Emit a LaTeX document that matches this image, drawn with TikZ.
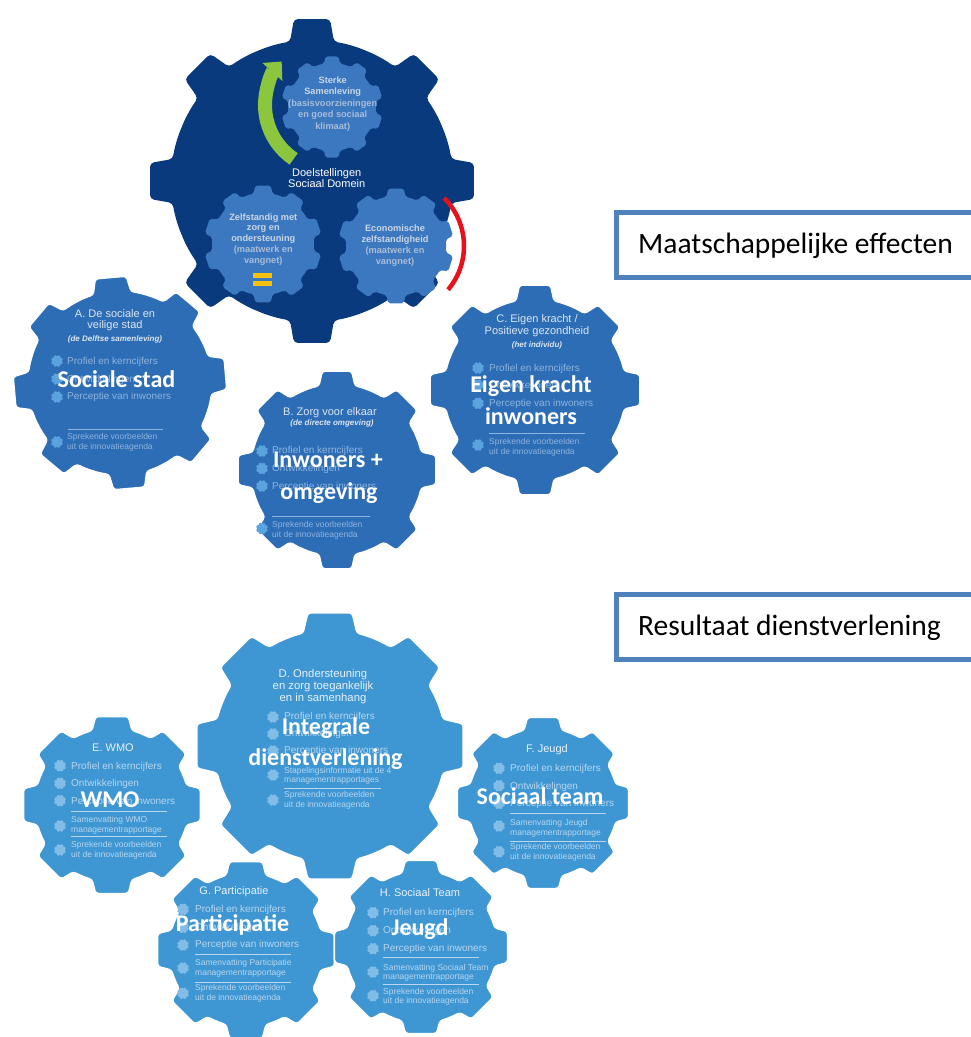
\documentclass[tikz,border=0pt]{standalone}
\usepackage{fontspec}
\setmainfont{Liberation Sans}
\newfontfamily\calfont{Carlito}
\usetikzlibrary{arrows.meta}

\definecolor{navy}{HTML}{0A3A7E}
\definecolor{innerblue}{HTML}{3B78BF}
\definecolor{upblue}{HTML}{2D6DB5}
\definecolor{loblue}{HTML}{3E96D3}
\definecolor{uptxt}{HTML}{8EB4DF}
\definecolor{uptitle}{HTML}{DCE6F2}
\definecolor{upbul}{HTML}{5AA3DE}
\definecolor{lotxt}{HTML}{B8D6EE}
\definecolor{lotitle}{HTML}{EAF2FA}
\definecolor{lobul}{HTML}{82BDE8}
\definecolor{intxt}{HTML}{CBD6E7}
\definecolor{inpar}{HTML}{A9BCD8}
\definecolor{boxblue}{HTML}{4F81BD}
\definecolor{arrowgreen}{HTML}{8CC63F}
\definecolor{arcred}{HTML}{E8101A}
\definecolor{eqyellow}{HTML}{F4C20D}

% #1 style, #2 cx, #3 cy, #4 body radius, #5 tip radius, #6 teeth, #7 offset angle, #8 tooth half width
\newcommand\mygear[8]{%
 \pgfmathsetmacro\gab{asin(#8/#4)}%
 \pgfmathsetmacro\gat{asin(0.82*#8/#5)}%
 \pgfmathsetmacro\gstep{360/#6}%
 \pgfmathsetmacro\gmid{#7+\gstep/2}%
 \path[#1] ([shift={(#2,#3)}]\gmid:#4)
  \foreach \k [evaluate=\k as \sa using #7+(\k-1)*\gstep+\gstep/2,
               evaluate=\k as \ea using #7+\k*\gstep-\gab,
               evaluate=\k as \ta using #7+\k*\gstep-\gat,
               evaluate=\k as \tb using #7+\k*\gstep+\gat,
               evaluate=\k as \tc using #7+\k*\gstep+\gab,
               evaluate=\k as \ma using #7+\k*\gstep+\gstep/2] in {1,...,#6}
  { arc[start angle=\sa, end angle=\ea, radius=#4]
    -- ([shift={(#2,#3)}]\ta:#5) -- ([shift={(#2,#3)}]\tb:#5) -- ([shift={(#2,#3)}]\tc:#4)
    arc[start angle=\tc, end angle=\ma, radius=#4] };%
}
\newcommand\mybul[3]{\mygear{fill=#1,rounded corners=0.6pt}{#2}{#3}{4.5}{6}{8}{22.5}{1.6}}

\tikzset{
 gup/.style={fill=upblue, draw=white, line width=1.5pt, rounded corners=3pt},
 glo/.style={fill=loblue, draw=white, line width=1.5pt, rounded corners=3pt},
 gin/.style={fill=innerblue, rounded corners=2pt},
 gnavy/.style={fill=navy, rounded corners=4pt},
 lbl/.style={inner sep=0pt, anchor=base, text=white, font=\calfont\bfseries\fontsize{24}{28}\selectfont},
 boxtxt/.style={inner sep=0pt, anchor=base west, text=black, font=\calfont\fontsize{29.5}{34}\selectfont},
 boxline/.style={draw=boxblue, line width=5pt, fill=white},
 ttl/.style={inner sep=0pt, anchor=base, text=#1, font=\fontsize{11}{13}\selectfont},
 ttlD/.style={inner sep=0pt, anchor=base, text=#1, font=\fontsize{11.3}{13}\selectfont},
 sub/.style={inner sep=0pt, anchor=base, text=#1, font=\bfseries\itshape\fontsize{8}{10}\selectfont},
 itm/.style={inner sep=0pt, anchor=base west, text=#1, font=\fontsize{10}{12}\selectfont},
 itms/.style={inner sep=0pt, anchor=base west, text=#1, font=\fontsize{8.5}{10}\selectfont},
 intitle/.style={inner sep=0pt, anchor=base, text=intxt, font=\bfseries\fontsize{9.2}{11}\selectfont},
 inparen/.style={inner sep=0pt, anchor=base, text=inpar, font=\bfseries\fontsize{9.2}{11}\selectfont},
 goal/.style={inner sep=0pt, anchor=base, text=white, font=\fontsize{11}{13}\selectfont},
 sepup/.style={draw=uptxt, line width=0.7pt},
 seplo/.style={draw=lotxt, line width=0.7pt},
}

\begin{document}
\begin{tikzpicture}[x=1pt,y=-1pt]
\useasboundingbox (0,0) rectangle (971,1037);
\clip (0,0) rectangle (971,1037);
\fill[white] (0,0) rectangle (971,1037);

% ---------- top navy gear ----------
\mygear{gnavy}{312}{181}{141}{163}{8}{0}{22}
\mygear{gin}{332}{107}{44}{51}{10}{-90}{8}
\mygear{gin}{263}{244}{51}{59}{10}{-90}{9.5}
\mygear{gin}{396}{246}{50}{58}{10}{-90}{9.5}

\coordinate (garc) at (330,105);
\draw[arrowgreen, line width=14pt, -{Triangle[width=26pt,length=14pt]}]
  ([shift={(garc)}]124:65) arc[start angle=124, end angle=222, radius=65];
\coordinate (rarc) at (396,246);
\draw[arcred, line width=4.5pt] ([shift={(rarc)}]-45:68) arc[start angle=-45, end angle=40, radius=68];
\fill[eqyellow] (253,273) rectangle (272,278);
\fill[eqyellow] (253,281) rectangle (272,286);

\node[intitle] (s1) at (332.7,83.3) {Sterke};
\node[intitle] (s2) at (332.7,94.3) {Samenleving};
\node[inparen] (s3) at (332.7,106) {(basisvoorzieningen};
\node[inparen] (s4) at (332.7,117.3) {en goed sociaal};
\node[inparen] (s5) at (332.7,129.3) {klimaat)};

\node[goal] (g1) at (326.7,176) {Doelstellingen};
\node[goal] (g2) at (326.7,187.3) {Sociaal Domein};

\node[intitle] (z1) at (263.3,220) {Zelfstandig met};
\node[intitle] (z2) at (263.3,230.7) {zorg en};
\node[intitle] (z3) at (263.3,241.7) {ondersteuning};
\node[inparen] (z4) at (263.3,252.7) {(maatwerk en};
\node[inparen] (z5) at (263.3,263.3) {vangnet)};

\node[intitle] (e1) at (395,231.7) {Economische};
\node[intitle] (e2) at (395,242.7) {zelfstandigheid};
\node[inparen] (e3) at (395,253.3) {(maatwerk en};
\node[inparen] (e4) at (395,264.3) {vangnet)};

% ---------- gear A ----------
\mygear{gup}{120}{383}{92}{107}{8}{-95}{19}
\node[ttl=uptitle] (aT1) at (115,317) {A. De sociale en};
\node[ttl=uptitle] (aT2) at (115,328) {veilige stad};
\node[sub=uptitle] (aS) at (115,341) {(de Delftse samenleving)};
\mybul{upbul}{57}{361}\mybul{upbul}{57}{379}\mybul{upbul}{57}{397}\mybul{upbul}{57}{442}
\node[itm=uptxt] (aI1) at (67,364) {Profiel en kerncijfers};
\node[itm=uptxt] (aI2) at (67,382) {Ontwikkelingen};
\node[itm=uptxt] (aI3) at (67,399.5) {Perceptie van inwoners};
\draw[sepup] (68,429.3) -- (163,429.3);
\node[itms=uptxt] (aI4) at (67,439.5) {Sprekende voorbeelden};
\node[itms=uptxt] (aI5) at (67,449) {uit de innovatieagenda};

% ---------- gear C ----------
\mygear{gup}{535}{390}{91}{106}{8}{-90}{19}
\node[ttl=uptitle] (cT1) at (537,322.3) {C. Eigen kracht /};
\node[ttl=uptitle] (cT2) at (537,334.3) {Positieve gezondheid};
\node[sub=uptitle] (cS) at (537,347.3) {(het individu)};
\mybul{upbul}{478}{368}\mybul{upbul}{478}{385}\mybul{upbul}{478}{403.3}\mybul{upbul}{478}{445}
\node[itm=uptxt] (cI1) at (489,371) {Profiel en kerncijfers};
\node[itm=uptxt] (cI2) at (489,388.3) {Ontwikkelingen};
\node[itm=uptxt] (cI3) at (489,406) {Perceptie van inwoners};
\draw[sepup] (489,433.3) -- (585,433.3);
\node[itms=uptxt] (cI4) at (489,444) {Sprekende voorbeelden};
\node[itms=uptxt] (cI5) at (489,454) {uit de innovatieagenda};

% ---------- gear B ----------
\mygear{gup}{337}{470}{86}{100}{8}{-90}{18}
\node[ttl=uptitle] (bT1) at (330,415) {B. Zorg voor elkaar};
\node[sub=uptitle] (bS) at (332,425.5) {(de directe omgeving)};
\mybul{upbul}{262}{451}\mybul{upbul}{262}{468.5}\mybul{upbul}{262}{486}\mybul{upbul}{262}{528.5}
\node[itm=uptxt] (bI1) at (272,453.5) {Profiel en kerncijfers};
\node[itm=uptxt] (bI2) at (272,471) {Ontwikkelingen};
\node[itm=uptxt] (bI3) at (272,489) {Perceptie van inwoners};
\draw[sepup] (272,516.7) -- (370,516.7);
\node[itms=uptxt] (bI4) at (272,527.5) {Sprekende voorbeelden};
\node[itms=uptxt] (bI5) at (272,537) {uit de innovatieagenda};

% ---------- gear D ----------
\mygear{glo}{330}{746}{116}{135}{8}{-90}{27}
\node[ttlD=lotitle] (dT1) at (323,677.3) {D. Ondersteuning};
\node[ttlD=lotitle] (dT2) at (323,689.5) {en zorg toegankelijk};
\node[ttlD=lotitle] (dT3) at (323,701.7) {en in samenhang};
\mybul{lobul}{273}{717}\mybul{lobul}{273}{734}\mybul{lobul}{273}{751}\mybul{lobul}{273}{775}\mybul{lobul}{273}{800}
\node[itm=lotxt] (dI1) at (284,719.3) {Profiel en kerncijfers};
\node[itm=lotxt] (dI2) at (284,736.7) {Ontwikkelingen};
\node[itm=lotxt] (dI3) at (284,753.3) {Perceptie van inwoners};
\node[itms=lotxt] (dI4) at (284,773.3) {Stapelingsinformatie uit de 4};
\node[itms=lotxt] (dI5) at (284,782.7) {managementrapportages};
\draw[seplo] (284,788.3) -- (381,788.3);
\node[itms=lotxt] (dI6) at (284,797.3) {Sprekende voorbeelden};
\node[itms=lotxt] (dI7) at (284,807.3) {uit de innovatieagenda};

% ---------- gear E ----------
\mygear{glo}{112}{805}{77}{90}{8}{-90}{20}
\node[ttl=lotitle] (eT) at (113,751.7) {E. WMO};
\mybul{lobul}{60}{765.7}\mybul{lobul}{60}{783.3}\mybul{lobul}{60}{800.7}\mybul{lobul}{60}{826}\mybul{lobul}{60}{850}
\node[itm=lotxt] (eI1) at (71,769) {Profiel en kerncijfers};
\node[itm=lotxt] (eI2) at (71,786.7) {Ontwikkelingen};
\node[itm=lotxt] (eI3) at (71,804) {Perceptie van inwoners};
\draw[seplo] (71,811) -- (167,811);
\node[itms=lotxt] (eI4) at (71,822.7) {Samenvatting WMO};
\node[itms=lotxt] (eI5) at (71,832.7) {managementrapportage};
\draw[seplo] (71,836.7) -- (167,836.7);
\node[itms=lotxt] (eI6) at (71,847.7) {Sprekende voorbeelden};
\node[itms=lotxt] (eI7) at (71,857.3) {uit de innovatieagenda};

% ---------- gear F ----------
\mygear{glo}{543}{803}{75}{87}{8}{-90}{19}
\node[ttl=lotitle] (fT) at (547,752.7) {F. Jeugd};
\mybul{lobul}{499}{768.3}\mybul{lobul}{499}{785.7}\mybul{lobul}{499}{803.3}\mybul{lobul}{499}{826}\mybul{lobul}{499}{851.7}
\node[itm=lotxt] (fI1) at (510,771.7) {Profiel en kerncijfers};
\node[itm=lotxt] (fI2) at (510,789) {Ontwikkelingen};
\node[itm=lotxt] (fI3) at (510,806.7) {Perceptie van inwoners};
\draw[seplo] (510,813.3) -- (606,813.3);
\node[itms=lotxt] (fI4) at (510,825) {Samenvatting Jeugd};
\node[itms=lotxt] (fI5) at (510,835) {managementrapportage};
\draw[seplo] (510,841.7) -- (606,841.7);
\node[itms=lotxt] (fI6) at (510,849.3) {Sprekende voorbeelden};
\node[itms=lotxt] (fI7) at (510,859) {uit de innovatieagenda};

% ---------- gear G ----------
\mygear{glo}{246}{950}{77}{90}{8}{-90}{20}
\node[ttl=lotitle] (gT) at (234,894) {G. Participatie};
\mybul{lobul}{183}{909.3}\mybul{lobul}{183}{927.3}\mybul{lobul}{183}{945}\mybul{lobul}{183}{968}\mybul{lobul}{183}{993.3}
\node[itm=lotxt] (gI1) at (195,912.7) {Profiel en kerncijfers};
\node[itm=lotxt] (gI2) at (195,930.7) {Ontwikkelingen};
\node[itm=lotxt] (gI3) at (195,947.7) {Perceptie van inwoners};
\draw[seplo] (195,954.3) -- (291,954.3);
\node[itms=lotxt] (gI4) at (195,965.7) {Samenvatting Participatie};
\node[itms=lotxt] (gI5) at (195,975) {managementrapportage};
\draw[seplo] (195,982.3) -- (291,982.3);
\node[itms=lotxt] (gI6) at (195,990) {Sprekende voorbeelden};
\node[itms=lotxt] (gI7) at (195,1000) {uit de innovatieagenda};

% ---------- gear H ----------
\mygear{glo}{421}{947}{76}{88}{8}{-90}{19}
\node[ttl=lotitle] (hT) at (420,896.7) {H. Sociaal Team};
\mybul{lobul}{373}{912.7}\mybul{lobul}{373}{930.7}\mybul{lobul}{373}{948.7}\mybul{lobul}{373}{972}\mybul{lobul}{373}{995.7}
\node[itm=lotxt] (hI1) at (383,915) {Profiel en kerncijfers};
\node[itm=lotxt] (hI2) at (383,933.3) {Ontwikkelingen};
\node[itm=lotxt] (hI3) at (383,951) {Perceptie van inwoners};
\draw[seplo] (383,957.7) -- (479,957.7);
\node[itms=lotxt] (hI4) at (383,970) {Samenvatting Sociaal Team};
\node[itms=lotxt] (hI5) at (383,979) {managementrapportage};
\draw[seplo] (383,984) -- (479,984);
\node[itms=lotxt] (hI6) at (383,994) {Sprekende voorbeelden};
\node[itms=lotxt] (hI7) at (383,1003.3) {uit de innovatieagenda};

% ---------- overlay labels ----------
\node[lbl] (LA) at (116.5,387) {Sociale stad};
\node[lbl] (LB1) at (328,467.7) {Inwoners +};
\node[lbl] (LB2) at (329,499) {omgeving};
\node[lbl] (LC1) at (531,392) {Eigen kracht};
\node[lbl] (LC2) at (531,424) {inwoners};
\node[lbl] (LD1) at (326,734) {Integrale};
\node[lbl] (LD2) at (325.5,765) {dienstverlening};
\node[lbl] (LE) at (110,807) {WMO};
\node[lbl] (LF) at (540,804) {Sociaal team};
\node[lbl] (LG) at (232.5,931) {Participatie};
\node[lbl] (LH) at (420,935) {Jeugd};

% ---------- boxes ----------
\draw[boxline] (616,212) rectangle (995,277);
\node[boxtxt] (box1) at (638,253) {Maatschappelijke effecten};
\draw[boxline] (616,594.5) rectangle (995,659);
\node[boxtxt] (box2) at (638,635) {Resultaat dienstverlening};
\end{tikzpicture}
\end{document}
